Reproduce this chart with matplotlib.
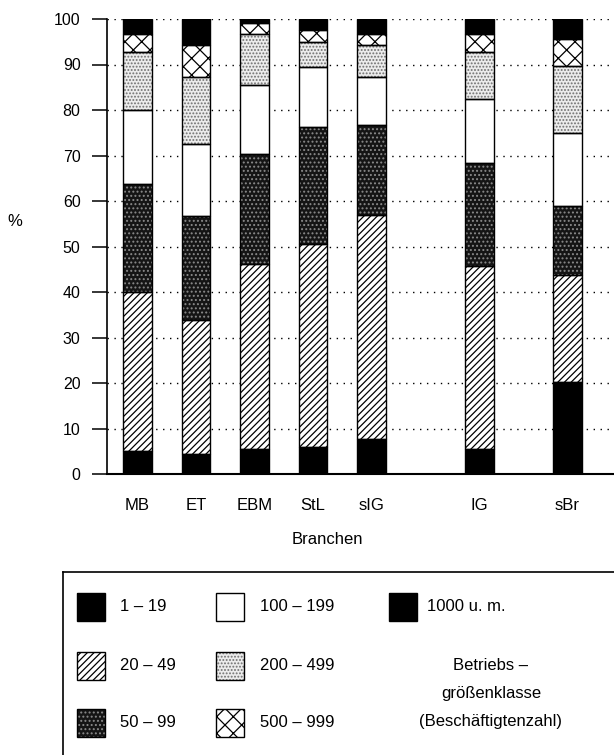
import numpy as np
import matplotlib
matplotlib.use("Agg")
import matplotlib.pyplot as plt
from matplotlib.patches import Rectangle

plt.rcParams['font.family'] = ['Liberation Sans', 'DejaVu Sans']
plt.rcParams['hatch.linewidth'] = 0.9

# Branchen and share (%) of each Betriebsgrößenklasse
branchen = ['MB', 'ET', 'EBM', 'StL', 'sIG', 'IG', 'sBr']
klassen = ['1 – 19', '20 – 49', '50 – 99', '100 – 199', '200 – 499', '500 – 999', '1000 u. m.']
k_1_19 = [5.1, 4.4, 5.6, 6.0, 7.6, 5.6, 20.2]
k_20_49 = [35.0, 29.4, 40.6, 44.5, 49.3, 40.1, 23.5]
k_50_99 = [23.6, 22.8, 24.1, 25.7, 19.8, 22.6, 15.3]
k_100_199 = [16.3, 15.9, 15.2, 13.2, 10.6, 14.1, 15.9]
k_200_499 = [12.7, 14.7, 11.2, 5.5, 6.9, 10.3, 14.8]
k_500_999 = [4.1, 7.1, 2.5, 2.7, 2.4, 3.9, 5.8]
k_1000 = [3.2, 5.7, 0.8, 2.4, 3.4, 3.4, 4.5]
series = [k_1_19, k_20_49, k_50_99, k_100_199, k_200_499, k_500_999, k_1000]

# face colour, hatch, hatch colour per class
styles = [
    ('black', None, 'black'),
    ('white', '/////', 'black'),
    ('#151515', '....', '#8a8a8a'),
    ('white', None, 'black'),
    ('#ececec', '.....', '#707070'),
    ('white', 'xx', 'black'),
    ('black', None, 'black'),
]

xpos = np.array([0, 1, 2, 3, 4, 5.85, 7.35])
width = 0.49

fig = plt.figure(figsize=(6.14, 7.55), dpi=100)
ax = fig.add_axes([107/614, 1-474/755, 1-107/614, 455/755])

bottom = np.zeros(len(branchen))
for vals, (fc, hatch, hc) in zip(series, styles):
    vals = np.array(vals)
    ax.bar(xpos, vals, width, bottom=bottom, color=fc, hatch=hatch,
           edgecolor=hc, linewidth=0, zorder=3)
    ax.bar(xpos, vals, width, bottom=bottom, fill=False,
           edgecolor='black', linewidth=1.0, zorder=4)
    bottom += vals

ax.set_xlim(-0.52, 8.15)
ax.set_ylim(0, 100)
ax.set_yticks(np.arange(0, 101, 10))
ax.set_yticklabels([str(v) for v in range(0, 101, 10)], fontsize=11.5)
ax.tick_params(axis='y', length=11, width=1.1, pad=8)
ax.set_xticks(xpos)
ax.set_xticklabels(branchen, fontsize=12)
ax.tick_params(axis='x', length=0, pad=17)
ax.yaxis.grid(True, linestyle=(0, (1, 4)), color='black', linewidth=1.0, zorder=0)
ax.set_axisbelow(True)
for s in ['top', 'right']:
    ax.spines[s].set_visible(False)
ax.spines['left'].set_linewidth(1.2)
ax.spines['bottom'].set_linewidth(1.5)

fig.text(15/614, 1-222/755, '%', fontsize=12, ha='center', va='center')
fig.text(327/614, 1-540/755, 'Branchen', fontsize=12, ha='center', va='center')

# legend area in pixel coordinates
lg = fig.add_axes([0, 0, 1, 185/755])
lg.set_xlim(0, 614)
lg.set_ylim(755, 570)
lg.axis('off')
lg.plot([63, 614], [572, 572], color='black', lw=1.2)
lg.plot([63, 63], [572, 755], color='black', lw=1.2)

box_x = [77, 216, 389]
row_y = [607, 666, 723]
txt_x = [120, 260, 427]
for i, (name, (fc, hatch, hc)) in enumerate(zip(klassen, styles)):
    col = i // 3 if i < 6 else 2
    row = i % 3 if i < 6 else 0
    x0, yc = box_x[col], row_y[row]
    lg.add_patch(Rectangle((x0, yc - 14), 28, 28, facecolor=fc, hatch=hatch,
                           edgecolor=hc, linewidth=0))
    lg.add_patch(Rectangle((x0, yc - 14), 28, 28, fill=False,
                           edgecolor='black', linewidth=1.0))
    lg.text(txt_x[col], yc, name, fontsize=12, va='center', ha='left')

lg.text(491, 666, 'Betriebs –', fontsize=12, ha='center', va='center')
lg.text(491, 694, 'größenklasse', fontsize=12, ha='center', va='center')
lg.text(491, 722, '(Beschäftigtenzahl)', fontsize=12, ha='center', va='center')

fig.savefig('out.png', dpi=100)
